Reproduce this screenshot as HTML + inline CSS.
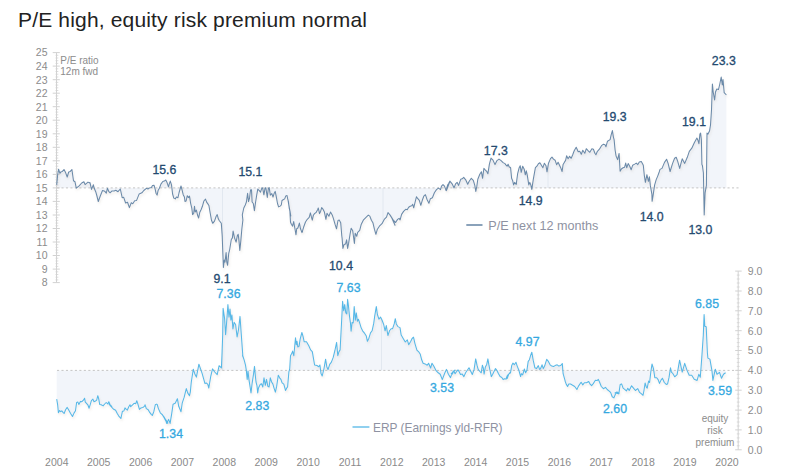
<!DOCTYPE html>
<html><head><meta charset="utf-8"><style>
html,body{margin:0;padding:0;background:#fff;width:800px;height:475px;overflow:hidden;}
svg{display:block;}
text{font-family:"Liberation Sans",sans-serif;}
.ax{font-size:10.5px;fill:#8c8c8c;}
.yr{font-size:10.5px;fill:#8a8a8a;}
.dl{font-size:12.3px;fill:#244a70;stroke:#244a70;stroke-width:0.3px;}
.ll{font-size:12.3px;fill:#35a8e0;stroke:#35a8e0;stroke-width:0.3px;}
.lg{font-size:12.6px;fill:#8e92a2;}
.at{font-size:10px;fill:#8c8c8c;}
.title{font-size:21px;fill:#222;}
</style></head><body>
<svg width="800" height="475" viewBox="0 0 800 475">
<defs><filter id="sh" x="-5%" y="-5%" width="110%" height="120%"><feDropShadow dx="0.8" dy="1.8" stdDeviation="1.2" flood-color="#a09080" flood-opacity="0.22"/></filter></defs>
<text x="18" y="27" class="title" textLength="349" lengthAdjust="spacing">P/E high, equity risk premium normal</text>
<clipPath id="cpA"><path d="M56.7,187.9 L56.7,184.9 L57.7,174.5 L58.6,169.2 L59.9,173.3 L61.2,171.7 L62.4,171.4 L64.0,169.5 L65.6,172.6 L67.2,177.0 L68.7,172.0 L70.3,171.4 L71.9,169.5 L73.5,180.8 L75.0,181.8 L76.3,188.1 L79.1,185.9 L81.7,183.0 L83.9,181.8 L85.1,184.6 L88.0,182.1 L89.8,183.0 L90.0,182.6 L91.5,189.4 L93.4,184.8 L94.2,188.3 L95.7,191.7 L96.8,195.5 L98.3,201.5 L100.2,196.2 L102.5,190.5 L104.8,191.3 L106.3,193.2 L107.4,188.3 L108.9,191.7 L110.1,192.8 L112.0,190.9 L114.2,190.9 L115.8,190.2 L118.0,191.7 L120.3,189.0 L122.2,197.7 L123.7,197.3 L125.6,203.0 L127.5,202.3 L129.4,207.6 L131.3,202.7 L132.8,203.8 L134.7,200.8 L136.6,200.4 L139.2,193.9 L141.9,192.8 L143.8,190.5 L146.4,188.3 L148.0,189.0 L149.5,187.9 L151.4,187.5 L152.5,185.6 L154.1,185.3 L155.2,189.4 L156.0,193.2 L157.1,195.1 L158.2,190.2 L159.4,188.3 L160.9,184.1 L162.8,181.5 L164.3,181.1 L165.8,180.0 L166.9,182.2 L168.5,186.8 L169.2,184.1 L170.3,181.1 L171.5,184.9 L172.6,194.0 L173.8,198.1 L175.3,198.9 L176.4,197.0 L177.9,197.8 L179.1,192.5 L181.0,186.0 L182.1,190.2 L183.2,194.7 L184.4,197.0 L185.0,201.4 L186.1,201.0 L187.3,195.7 L188.4,197.6 L189.5,196.1 L190.7,203.6 L191.8,208.2 L192.6,214.6 L193.7,213.5 L194.5,206.3 L195.2,212.0 L196.4,210.1 L197.5,215.0 L198.6,218.0 L199.8,212.3 L201.3,209.3 L202.4,206.3 L203.9,201.0 L205.5,199.1 L206.6,202.1 L207.7,203.6 L208.9,205.5 L210.0,212.0 L211.5,220.3 L212.7,223.3 L214.5,221.1 L216.1,216.5 L217.2,214.6 L218.3,218.8 L219.2,220.5 L221.3,223.2 L222.2,235.8 L222.9,254.7 L223.4,267.4 L224.3,260.0 L225.0,262.1 L226.1,252.6 L226.8,262.1 L227.6,265.3 L228.7,253.7 L229.7,249.5 L231.3,239.5 L232.4,237.9 L233.1,231.1 L234.5,237.9 L236.1,242.1 L237.3,235.8 L238.2,234.2 L239.0,241.1 L239.8,250.5 L240.8,241.1 L241.8,229.5 L242.9,220.0 L242.3,214.8 L243.8,208.0 L245.3,205.0 L246.4,202.0 L247.6,193.3 L248.5,201.6 L249.5,198.2 L250.6,189.8 L251.5,189.8 L252.1,202.0 L253.3,203.5 L254.4,210.7 L255.5,202.7 L256.7,195.2 L257.8,189.1 L259.3,190.6 L260.5,192.1 L262.0,187.6 L262.7,188.3 L263.9,194.8 L265.0,188.3 L265.8,187.6 L266.5,192.1 L267.3,197.4 L268.4,188.3 L269.2,187.6 L270.3,195.2 L271.8,193.6 L273.0,197.0 L274.1,193.6 L275.2,191.4 L276.4,197.4 L277.5,203.5 L278.6,206.9 L280.2,206.1 L281.3,205.0 L282.0,200.5 L283.2,199.7 L284.7,198.9 L285.8,195.9 L287.0,195.5 L287.7,198.9 L288.5,202.0 L289.2,208.0 L290.0,211.1 L290.8,216.0 L288.0,200.0 L289.2,207.6 L289.9,211.4 L290.5,222.3 L291.4,224.2 L292.6,226.1 L293.7,221.6 L294.8,228.0 L296.0,234.8 L296.7,228.8 L297.9,228.0 L299.4,223.1 L300.5,228.8 L302.0,232.6 L303.6,227.3 L305.5,222.0 L307.3,219.3 L309.2,217.4 L310.4,212.9 L311.5,217.4 L312.3,220.1 L313.4,215.2 L314.5,213.6 L316.1,212.5 L317.6,209.8 L318.3,208.0 L319.5,213.6 L320.6,211.4 L321.7,207.6 L322.9,209.1 L324.4,212.1 L325.9,219.3 L327.0,213.3 L328.9,216.3 L330.5,212.1 L332.3,215.2 L333.5,218.9 L335.0,224.2 L336.5,228.8 L338.0,220.5 L339.2,220.1 L340.7,222.7 L341.8,236.0 L342.1,238.3 L342.9,248.4 L344.1,244.4 L345.6,243.9 L346.6,239.8 L347.6,248.4 L348.6,243.4 L350.2,233.3 L351.2,228.2 L352.7,230.8 L353.7,238.3 L354.4,243.4 L355.2,233.3 L356.7,236.3 L357.7,232.3 L359.7,230.3 L361.3,224.2 L363.3,220.2 L365.8,217.6 L368.3,215.1 L369.8,216.1 L371.4,220.2 L372.9,222.7 L374.4,229.2 L375.9,234.3 L377.4,229.2 L379.4,226.2 L382.0,223.7 L384.5,219.1 L386.5,217.1 L388.0,212.6 L390.1,215.1 L392.6,219.1 L395.0,225.2 L391.5,217.4 L393.5,220.5 L395.6,222.5 L397.6,219.4 L399.1,218.4 L400.1,219.9 L401.6,214.4 L403.6,211.4 L405.7,209.3 L407.2,209.8 L408.7,207.3 L410.2,206.3 L411.7,205.8 L412.7,204.3 L413.7,207.8 L415.3,201.3 L416.5,196.7 L417.8,198.7 L419.3,200.3 L420.8,205.3 L422.3,200.3 L423.8,196.2 L425.4,194.7 L426.9,199.2 L428.9,203.3 L430.4,198.7 L432.4,197.7 L434.4,192.7 L436.5,189.6 L438.5,188.1 L440.5,189.6 L441.5,186.1 L443.0,184.6 L444.5,186.1 L446.1,190.7 L447.6,185.1 L448.6,183.6 L450.0,181.1 L446.5,190.4 L448.0,185.4 L450.1,181.3 L452.1,183.8 L454.1,187.9 L455.6,183.8 L457.1,182.3 L458.6,185.4 L460.7,179.3 L462.2,178.8 L463.7,177.3 L465.7,179.8 L467.7,184.3 L469.2,181.3 L471.3,178.3 L473.3,180.3 L474.8,185.4 L475.8,191.4 L476.8,186.4 L477.8,179.3 L479.8,174.2 L481.4,171.7 L482.6,178.3 L483.9,168.2 L485.4,170.2 L486.9,171.7 L487.9,173.7 L489.4,164.1 L491.0,158.1 L493.0,160.1 L495.0,164.6 L497.0,160.6 L499.0,159.1 L501.1,160.6 L503.1,162.6 L505.0,163.6 L505.6,164.7 L507.1,166.2 L508.1,164.2 L509.1,166.7 L510.6,167.7 L511.6,178.3 L512.6,180.4 L513.6,184.9 L514.6,182.4 L516.2,184.4 L517.7,173.3 L519.2,167.7 L520.2,165.7 L521.2,172.3 L522.7,166.2 L524.2,169.2 L525.3,174.8 L526.3,170.8 L527.3,175.3 L528.8,184.9 L529.8,182.4 L530.8,184.9 L531.8,189.4 L533.3,179.3 L535.4,167.7 L536.9,166.2 L538.4,163.7 L539.9,162.7 L541.4,165.2 L542.9,167.7 L544.4,163.2 L546.0,165.7 L547.0,171.8 L548.5,163.2 L550.5,158.6 L552.0,157.1 L553.5,159.1 L555.1,160.2 L556.6,164.7 L558.1,162.2 L560.0,166.2 L560.6,167.4 L562.1,171.5 L563.1,164.4 L564.6,161.9 L565.6,160.4 L566.6,155.8 L568.1,158.8 L569.6,156.3 L571.2,158.3 L572.7,154.8 L574.2,150.8 L576.2,147.2 L578.2,151.8 L579.7,151.3 L581.3,154.3 L582.8,150.3 L584.8,153.3 L586.3,148.7 L587.8,150.3 L589.8,152.3 L591.9,148.7 L593.4,149.2 L594.9,153.3 L595.9,154.8 L597.4,151.3 L599.4,149.2 L601.5,145.7 L603.5,144.2 L605.0,144.7 L606.0,146.7 L607.5,141.2 L610.1,139.6 L611.1,135.1 L612.4,130.6 L613.4,137.1 L614.1,139.6 L615.1,150.0 L616.1,156.1 L617.6,159.6 L619.1,153.5 L620.1,171.2 L621.6,168.7 L623.1,167.7 L624.6,167.2 L625.7,163.1 L626.7,167.7 L628.2,163.6 L629.7,166.2 L631.2,169.7 L632.7,165.2 L634.7,164.1 L636.3,163.1 L637.8,164.6 L639.3,162.1 L641.3,161.6 L643.3,165.2 L644.3,175.3 L645.4,182.3 L646.9,174.7 L648.4,181.3 L649.4,176.8 L650.4,185.9 L651.9,194.4 L652.1,201.3 L653.1,195.3 L654.6,185.2 L656.2,179.6 L657.7,176.1 L659.2,172.0 L660.0,169.4 L662.0,168.4 L664.5,162.4 L666.6,159.3 L668.1,163.4 L670.1,171.5 L672.6,163.4 L674.6,158.3 L676.2,157.3 L677.7,161.4 L679.7,168.4 L680.7,164.4 L682.2,158.8 L684.7,163.4 L687.3,157.3 L689.3,151.3 L691.8,148.2 L694.3,142.7 L696.9,138.1 L697.9,140.2 L698.9,143.7 L699.9,134.1 L700.6,133.1 L701.4,140.2 L701.9,164.4 L702.4,165.4 L703.4,173.0 L704.2,214.9 L705.1,192.8 L706.4,185.3 L706.4,185.3 L707.0,133.1 L708.0,134.1 L709.5,131.1 L710.5,125.0 L711.5,110.0 L712.4,84.0 L713.2,92.0 L714.6,100.0 L715.5,92.0 L716.8,89.0 L718.5,89.5 L719.8,84.0 L721.2,77.0 L722.3,85.0 L723.0,79.5 L724.2,92.7 L726.4,95.0 L726.4,187.9Z"/></clipPath><clipPath id="cpB"><path d="M56.7,370.4 L56.7,399.1 L57.7,405.2 L58.4,412.7 L59.6,410.5 L60.7,411.6 L61.8,410.8 L63.0,412.3 L64.1,413.5 L65.6,409.7 L67.2,407.4 L68.7,410.1 L70.6,413.5 L72.5,416.5 L74.0,413.1 L75.5,410.8 L76.6,402.5 L77.8,402.1 L78.9,404.4 L80.4,401.4 L81.9,401.7 L83.4,400.2 L84.6,398.3 L85.3,402.1 L86.5,403.3 L88.0,405.2 L89.1,408.2 L90.3,404.4 L91.4,400.6 L92.9,399.1 L94.0,401.7 L95.6,401.0 L96.7,400.2 L97.8,395.7 L98.6,398.3 L99.7,404.4 L101.2,404.8 L103.1,405.9 L104.7,404.0 L106.2,402.5 L107.7,404.0 L108.8,401.7 L110.3,405.2 L111.8,406.3 L109.1,404.1 L111.0,406.4 L113.3,409.0 L115.6,410.2 L117.1,413.2 L118.6,415.8 L120.9,418.5 L122.4,411.3 L123.9,410.9 L125.0,407.9 L126.2,409.4 L127.3,410.2 L128.8,406.7 L130.0,404.8 L130.7,406.7 L132.6,404.8 L134.1,403.3 L135.7,403.7 L136.8,400.7 L137.9,404.1 L139.4,409.4 L141.0,407.9 L142.8,407.5 L144.4,406.4 L145.1,404.8 L146.3,408.6 L148.2,409.8 L149.7,412.4 L151.2,414.3 L152.3,415.5 L153.8,411.7 L155.3,404.8 L156.5,404.1 L157.2,404.5 L158.4,408.6 L160.3,412.8 L162.2,414.7 L164.1,417.0 L165.6,420.0 L166.7,423.4 L168.0,423.0 L162.0,414.3 L164.0,417.4 L165.6,420.4 L166.9,423.4 L168.6,419.4 L170.1,423.4 L171.6,414.3 L173.1,404.2 L175.2,403.2 L177.4,398.7 L178.7,406.3 L181.0,411.8 L182.2,403.2 L184.2,397.2 L186.3,388.6 L187.8,393.1 L189.5,395.7 L190.3,392.1 L191.3,382.0 L193.3,369.2 L194.8,373.9 L196.4,377.1 L198.9,364.2 L202.1,373.3 L204.9,383.4 L206.5,383.0 L207.8,384.4 L208.8,388.0 L210.7,376.7 L212.5,368.9 L214.7,372.0 L217.2,374.6 L219.1,365.7 L221.4,367.9 L222.1,351.4 L222.7,335.0 L223.1,308.3 L224.6,318.6 L225.6,334.8 L226.8,320.1 L227.9,304.6 L229.0,317.1 L230.0,309.0 L230.9,320.1 L231.9,314.9 L232.9,328.9 L234.1,322.3 L235.6,324.5 L237.1,337.0 L238.5,329.6 L240.0,316.4 L241.2,333.3 L242.9,356.8 L242.5,355.0 L244.2,360.1 L245.5,365.1 L246.3,370.2 L247.2,379.4 L248.0,371.0 L248.8,378.6 L250.1,387.0 L251.0,392.9 L252.2,382.8 L253.5,374.4 L254.5,366.4 L255.2,374.4 L256.0,382.0 L256.9,385.3 L257.7,392.9 L258.5,387.9 L260.2,384.5 L261.5,383.7 L262.8,387.0 L264.0,377.8 L265.3,385.3 L266.5,379.4 L267.8,386.2 L269.1,387.0 L270.3,377.8 L271.6,382.0 L272.9,384.1 L274.1,388.3 L275.4,392.1 L276.7,386.2 L278.3,375.2 L279.6,377.8 L280.9,379.4 L282.1,382.8 L283.8,384.1 L285.5,390.4 L286.8,387.9 L287.6,387.0 L288.9,371.9 L289.7,369.0 L290.5,355.7 L292.1,352.8 L292.6,351.1 L293.8,355.7 L295.5,337.7 L296.3,344.7 L297.0,341.2 L297.8,347.0 L299.0,346.4 L300.2,338.9 L301.9,332.5 L303.1,336.6 L304.2,341.8 L306.5,341.8 L308.8,345.8 L310.6,349.9 L312.3,351.6 L313.5,358.6 L314.6,365.0 L317.0,365.5 L318.7,366.7 L319.9,365.0 L321.0,373.6 L322.2,376.0 L323.9,369.0 L325.6,359.2 L326.8,366.7 L328.0,369.6 L329.7,364.4 L331.4,362.1 L333.2,357.4 L334.9,350.5 L336.6,342.4 L337.8,355.7 L339.0,351.6 L340.1,349.9 L341.6,321.3 L342.6,301.3 L343.7,310.8 L344.7,304.5 L345.8,312.9 L346.8,313.9 L347.6,299.2 L348.4,305.5 L349.5,316.1 L350.5,323.4 L351.1,331.3 L352.1,322.4 L353.2,322.9 L354.2,306.6 L355.3,320.3 L356.3,312.9 L357.4,321.3 L358.4,319.2 L359.5,322.4 L361.1,327.6 L362.6,330.8 L364.7,333.4 L366.3,336.1 L367.4,341.3 L368.9,338.2 L370.5,332.9 L372.1,330.8 L373.7,323.4 L374.7,316.1 L376.3,306.6 L377.4,314.5 L378.9,319.2 L380.5,317.1 L382.1,320.3 L383.7,324.5 L385.1,330.8 L386.3,325.5 L387.9,335.5 L389.5,330.8 L391.1,328.7 L392.6,328.7 L394.2,323.9 L395.3,318.7 L396.3,323.9 L397.9,326.6 L400.0,327.6 L401.2,335.1 L403.2,338.5 L405.3,342.0 L407.3,339.9 L408.7,344.7 L410.8,341.3 L412.1,338.5 L413.5,337.2 L414.9,343.3 L416.9,350.2 L419.0,352.2 L420.3,354.3 L421.7,359.8 L423.1,363.2 L425.1,363.9 L427.2,365.3 L428.6,363.2 L430.6,368.0 L432.0,363.2 L434.0,366.6 L436.1,370.7 L438.2,372.8 L440.2,374.2 L442.3,379.6 L444.3,374.2 L446.4,369.4 L448.4,374.2 L450.5,377.6 L452.5,372.1 L455.0,370.1 L451.3,373.7 L452.5,374.1 L453.8,370.7 L455.1,373.7 L456.3,372.0 L458.0,369.9 L459.3,372.0 L460.5,374.5 L462.2,374.1 L463.9,376.6 L465.6,372.8 L467.3,370.3 L469.0,367.8 L470.6,371.1 L472.3,374.5 L474.0,369.9 L475.7,358.9 L477.0,365.2 L478.2,369.4 L479.9,371.5 L481.2,372.8 L482.4,365.2 L483.3,367.8 L484.1,374.1 L485.4,366.9 L486.7,364.4 L487.9,358.9 L488.8,364.4 L490.0,370.3 L491.3,376.6 L492.6,374.5 L493.8,372.0 L495.5,368.6 L496.8,370.3 L498.5,373.7 L500.1,376.6 L501.8,377.4 L503.1,379.6 L504.4,378.7 L506.0,379.1 L507.3,378.3 L508.6,374.5 L509.8,372.8 L506.3,377.9 L507.5,375.3 L509.2,373.7 L510.5,372.8 L511.7,365.6 L513.0,363.1 L514.3,364.8 L516.0,362.3 L517.2,366.1 L518.9,370.3 L520.6,376.6 L521.4,373.7 L522.7,374.9 L524.4,369.0 L525.6,372.8 L526.9,370.3 L528.2,361.4 L529.4,359.7 L530.7,355.1 L531.8,352.2 L533.2,360.2 L534.9,367.8 L536.6,368.6 L538.3,365.6 L539.6,369.4 L540.4,369.0 L542.1,364.8 L543.3,368.6 L544.6,366.1 L546.7,359.3 L548.4,361.4 L550.1,364.8 L551.8,366.1 L553.5,366.5 L555.1,365.6 L557.2,364.8 L558.9,366.1 L560.6,365.6 L562.3,363.5 L563.1,373.7 L565.0,380.4 L565.1,381.1 L566.3,384.4 L567.6,386.5 L568.8,384.0 L570.5,384.0 L572.6,385.3 L574.7,386.5 L576.9,389.5 L578.5,386.1 L581.1,382.3 L582.8,384.9 L584.4,382.8 L586.5,382.8 L588.7,381.5 L590.3,384.4 L591.6,385.7 L593.3,383.6 L595.4,380.2 L597.1,380.6 L598.3,379.4 L599.6,382.3 L601.3,386.5 L603.4,388.7 L605.5,387.4 L607.2,389.5 L608.9,390.8 L610.6,392.4 L612.2,396.7 L613.9,397.9 L615.6,393.7 L617.3,392.0 L619.0,393.7 L615.0,392.9 L616.9,392.0 L618.8,393.9 L620.2,384.4 L621.6,383.9 L623.1,388.2 L625.0,389.6 L626.4,391.0 L627.8,388.2 L629.2,390.5 L631.6,385.8 L633.5,388.2 L635.4,390.5 L637.7,388.6 L639.6,392.4 L641.5,393.9 L643.0,395.3 L643.9,391.0 L645.1,383.0 L646.3,387.2 L647.2,388.2 L648.6,381.1 L649.6,382.5 L650.8,372.1 L652.0,364.0 L653.4,368.3 L654.8,377.7 L656.7,377.7 L658.1,379.6 L659.5,383.4 L661.0,380.1 L662.4,378.2 L664.3,382.5 L666.2,384.4 L667.6,383.9 L669.0,377.7 L670.5,367.8 L671.4,372.1 L672.8,373.5 L674.7,376.8 L677.1,374.7 L679.6,360.2 L682.2,372.1 L684.7,363.3 L687.2,370.9 L689.2,375.3 L691.7,375.3 L694.2,379.3 L697.1,380.4 L698.8,374.3 L700.3,377.3 L701.8,357.1 L703.3,335.3 L704.1,314.6 L704.8,326.2 L706.2,326.7 L707.4,353.0 L707.9,358.1 L709.9,359.1 L711.9,370.3 L712.9,380.4 L715.3,369.2 L717.0,374.3 L719.5,372.3 L721.5,378.3 L723.5,374.3 L725.6,372.8 L725.6,370.4Z"/></clipPath>
<path d="M56.7,187.9 L56.7,184.9 L57.7,174.5 L58.6,169.2 L59.9,173.3 L61.2,171.7 L62.4,171.4 L64.0,169.5 L65.6,172.6 L67.2,177.0 L68.7,172.0 L70.3,171.4 L71.9,169.5 L73.5,180.8 L75.0,181.8 L76.3,188.1 L79.1,185.9 L81.7,183.0 L83.9,181.8 L85.1,184.6 L88.0,182.1 L89.8,183.0 L90.0,182.6 L91.5,189.4 L93.4,184.8 L94.2,188.3 L95.7,191.7 L96.8,195.5 L98.3,201.5 L100.2,196.2 L102.5,190.5 L104.8,191.3 L106.3,193.2 L107.4,188.3 L108.9,191.7 L110.1,192.8 L112.0,190.9 L114.2,190.9 L115.8,190.2 L118.0,191.7 L120.3,189.0 L122.2,197.7 L123.7,197.3 L125.6,203.0 L127.5,202.3 L129.4,207.6 L131.3,202.7 L132.8,203.8 L134.7,200.8 L136.6,200.4 L139.2,193.9 L141.9,192.8 L143.8,190.5 L146.4,188.3 L148.0,189.0 L149.5,187.9 L151.4,187.5 L152.5,185.6 L154.1,185.3 L155.2,189.4 L156.0,193.2 L157.1,195.1 L158.2,190.2 L159.4,188.3 L160.9,184.1 L162.8,181.5 L164.3,181.1 L165.8,180.0 L166.9,182.2 L168.5,186.8 L169.2,184.1 L170.3,181.1 L171.5,184.9 L172.6,194.0 L173.8,198.1 L175.3,198.9 L176.4,197.0 L177.9,197.8 L179.1,192.5 L181.0,186.0 L182.1,190.2 L183.2,194.7 L184.4,197.0 L185.0,201.4 L186.1,201.0 L187.3,195.7 L188.4,197.6 L189.5,196.1 L190.7,203.6 L191.8,208.2 L192.6,214.6 L193.7,213.5 L194.5,206.3 L195.2,212.0 L196.4,210.1 L197.5,215.0 L198.6,218.0 L199.8,212.3 L201.3,209.3 L202.4,206.3 L203.9,201.0 L205.5,199.1 L206.6,202.1 L207.7,203.6 L208.9,205.5 L210.0,212.0 L211.5,220.3 L212.7,223.3 L214.5,221.1 L216.1,216.5 L217.2,214.6 L218.3,218.8 L219.2,220.5 L221.3,223.2 L222.2,235.8 L222.9,254.7 L223.4,267.4 L224.3,260.0 L225.0,262.1 L226.1,252.6 L226.8,262.1 L227.6,265.3 L228.7,253.7 L229.7,249.5 L231.3,239.5 L232.4,237.9 L233.1,231.1 L234.5,237.9 L236.1,242.1 L237.3,235.8 L238.2,234.2 L239.0,241.1 L239.8,250.5 L240.8,241.1 L241.8,229.5 L242.9,220.0 L242.3,214.8 L243.8,208.0 L245.3,205.0 L246.4,202.0 L247.6,193.3 L248.5,201.6 L249.5,198.2 L250.6,189.8 L251.5,189.8 L252.1,202.0 L253.3,203.5 L254.4,210.7 L255.5,202.7 L256.7,195.2 L257.8,189.1 L259.3,190.6 L260.5,192.1 L262.0,187.6 L262.7,188.3 L263.9,194.8 L265.0,188.3 L265.8,187.6 L266.5,192.1 L267.3,197.4 L268.4,188.3 L269.2,187.6 L270.3,195.2 L271.8,193.6 L273.0,197.0 L274.1,193.6 L275.2,191.4 L276.4,197.4 L277.5,203.5 L278.6,206.9 L280.2,206.1 L281.3,205.0 L282.0,200.5 L283.2,199.7 L284.7,198.9 L285.8,195.9 L287.0,195.5 L287.7,198.9 L288.5,202.0 L289.2,208.0 L290.0,211.1 L290.8,216.0 L288.0,200.0 L289.2,207.6 L289.9,211.4 L290.5,222.3 L291.4,224.2 L292.6,226.1 L293.7,221.6 L294.8,228.0 L296.0,234.8 L296.7,228.8 L297.9,228.0 L299.4,223.1 L300.5,228.8 L302.0,232.6 L303.6,227.3 L305.5,222.0 L307.3,219.3 L309.2,217.4 L310.4,212.9 L311.5,217.4 L312.3,220.1 L313.4,215.2 L314.5,213.6 L316.1,212.5 L317.6,209.8 L318.3,208.0 L319.5,213.6 L320.6,211.4 L321.7,207.6 L322.9,209.1 L324.4,212.1 L325.9,219.3 L327.0,213.3 L328.9,216.3 L330.5,212.1 L332.3,215.2 L333.5,218.9 L335.0,224.2 L336.5,228.8 L338.0,220.5 L339.2,220.1 L340.7,222.7 L341.8,236.0 L342.1,238.3 L342.9,248.4 L344.1,244.4 L345.6,243.9 L346.6,239.8 L347.6,248.4 L348.6,243.4 L350.2,233.3 L351.2,228.2 L352.7,230.8 L353.7,238.3 L354.4,243.4 L355.2,233.3 L356.7,236.3 L357.7,232.3 L359.7,230.3 L361.3,224.2 L363.3,220.2 L365.8,217.6 L368.3,215.1 L369.8,216.1 L371.4,220.2 L372.9,222.7 L374.4,229.2 L375.9,234.3 L377.4,229.2 L379.4,226.2 L382.0,223.7 L384.5,219.1 L386.5,217.1 L388.0,212.6 L390.1,215.1 L392.6,219.1 L395.0,225.2 L391.5,217.4 L393.5,220.5 L395.6,222.5 L397.6,219.4 L399.1,218.4 L400.1,219.9 L401.6,214.4 L403.6,211.4 L405.7,209.3 L407.2,209.8 L408.7,207.3 L410.2,206.3 L411.7,205.8 L412.7,204.3 L413.7,207.8 L415.3,201.3 L416.5,196.7 L417.8,198.7 L419.3,200.3 L420.8,205.3 L422.3,200.3 L423.8,196.2 L425.4,194.7 L426.9,199.2 L428.9,203.3 L430.4,198.7 L432.4,197.7 L434.4,192.7 L436.5,189.6 L438.5,188.1 L440.5,189.6 L441.5,186.1 L443.0,184.6 L444.5,186.1 L446.1,190.7 L447.6,185.1 L448.6,183.6 L450.0,181.1 L446.5,190.4 L448.0,185.4 L450.1,181.3 L452.1,183.8 L454.1,187.9 L455.6,183.8 L457.1,182.3 L458.6,185.4 L460.7,179.3 L462.2,178.8 L463.7,177.3 L465.7,179.8 L467.7,184.3 L469.2,181.3 L471.3,178.3 L473.3,180.3 L474.8,185.4 L475.8,191.4 L476.8,186.4 L477.8,179.3 L479.8,174.2 L481.4,171.7 L482.6,178.3 L483.9,168.2 L485.4,170.2 L486.9,171.7 L487.9,173.7 L489.4,164.1 L491.0,158.1 L493.0,160.1 L495.0,164.6 L497.0,160.6 L499.0,159.1 L501.1,160.6 L503.1,162.6 L505.0,163.6 L505.6,164.7 L507.1,166.2 L508.1,164.2 L509.1,166.7 L510.6,167.7 L511.6,178.3 L512.6,180.4 L513.6,184.9 L514.6,182.4 L516.2,184.4 L517.7,173.3 L519.2,167.7 L520.2,165.7 L521.2,172.3 L522.7,166.2 L524.2,169.2 L525.3,174.8 L526.3,170.8 L527.3,175.3 L528.8,184.9 L529.8,182.4 L530.8,184.9 L531.8,189.4 L533.3,179.3 L535.4,167.7 L536.9,166.2 L538.4,163.7 L539.9,162.7 L541.4,165.2 L542.9,167.7 L544.4,163.2 L546.0,165.7 L547.0,171.8 L548.5,163.2 L550.5,158.6 L552.0,157.1 L553.5,159.1 L555.1,160.2 L556.6,164.7 L558.1,162.2 L560.0,166.2 L560.6,167.4 L562.1,171.5 L563.1,164.4 L564.6,161.9 L565.6,160.4 L566.6,155.8 L568.1,158.8 L569.6,156.3 L571.2,158.3 L572.7,154.8 L574.2,150.8 L576.2,147.2 L578.2,151.8 L579.7,151.3 L581.3,154.3 L582.8,150.3 L584.8,153.3 L586.3,148.7 L587.8,150.3 L589.8,152.3 L591.9,148.7 L593.4,149.2 L594.9,153.3 L595.9,154.8 L597.4,151.3 L599.4,149.2 L601.5,145.7 L603.5,144.2 L605.0,144.7 L606.0,146.7 L607.5,141.2 L610.1,139.6 L611.1,135.1 L612.4,130.6 L613.4,137.1 L614.1,139.6 L615.1,150.0 L616.1,156.1 L617.6,159.6 L619.1,153.5 L620.1,171.2 L621.6,168.7 L623.1,167.7 L624.6,167.2 L625.7,163.1 L626.7,167.7 L628.2,163.6 L629.7,166.2 L631.2,169.7 L632.7,165.2 L634.7,164.1 L636.3,163.1 L637.8,164.6 L639.3,162.1 L641.3,161.6 L643.3,165.2 L644.3,175.3 L645.4,182.3 L646.9,174.7 L648.4,181.3 L649.4,176.8 L650.4,185.9 L651.9,194.4 L652.1,201.3 L653.1,195.3 L654.6,185.2 L656.2,179.6 L657.7,176.1 L659.2,172.0 L660.0,169.4 L662.0,168.4 L664.5,162.4 L666.6,159.3 L668.1,163.4 L670.1,171.5 L672.6,163.4 L674.6,158.3 L676.2,157.3 L677.7,161.4 L679.7,168.4 L680.7,164.4 L682.2,158.8 L684.7,163.4 L687.3,157.3 L689.3,151.3 L691.8,148.2 L694.3,142.7 L696.9,138.1 L697.9,140.2 L698.9,143.7 L699.9,134.1 L700.6,133.1 L701.4,140.2 L701.9,164.4 L702.4,165.4 L703.4,173.0 L704.2,214.9 L705.1,192.8 L706.4,185.3 L706.4,185.3 L707.0,133.1 L708.0,134.1 L709.5,131.1 L710.5,125.0 L711.5,110.0 L712.4,84.0 L713.2,92.0 L714.6,100.0 L715.5,92.0 L716.8,89.0 L718.5,89.5 L719.8,84.0 L721.2,77.0 L722.3,85.0 L723.0,79.5 L724.2,92.7 L726.4,95.0 L726.4,187.9Z" fill="#f2f5fa"/>
<path d="M56.7,370.4 L56.7,399.1 L57.7,405.2 L58.4,412.7 L59.6,410.5 L60.7,411.6 L61.8,410.8 L63.0,412.3 L64.1,413.5 L65.6,409.7 L67.2,407.4 L68.7,410.1 L70.6,413.5 L72.5,416.5 L74.0,413.1 L75.5,410.8 L76.6,402.5 L77.8,402.1 L78.9,404.4 L80.4,401.4 L81.9,401.7 L83.4,400.2 L84.6,398.3 L85.3,402.1 L86.5,403.3 L88.0,405.2 L89.1,408.2 L90.3,404.4 L91.4,400.6 L92.9,399.1 L94.0,401.7 L95.6,401.0 L96.7,400.2 L97.8,395.7 L98.6,398.3 L99.7,404.4 L101.2,404.8 L103.1,405.9 L104.7,404.0 L106.2,402.5 L107.7,404.0 L108.8,401.7 L110.3,405.2 L111.8,406.3 L109.1,404.1 L111.0,406.4 L113.3,409.0 L115.6,410.2 L117.1,413.2 L118.6,415.8 L120.9,418.5 L122.4,411.3 L123.9,410.9 L125.0,407.9 L126.2,409.4 L127.3,410.2 L128.8,406.7 L130.0,404.8 L130.7,406.7 L132.6,404.8 L134.1,403.3 L135.7,403.7 L136.8,400.7 L137.9,404.1 L139.4,409.4 L141.0,407.9 L142.8,407.5 L144.4,406.4 L145.1,404.8 L146.3,408.6 L148.2,409.8 L149.7,412.4 L151.2,414.3 L152.3,415.5 L153.8,411.7 L155.3,404.8 L156.5,404.1 L157.2,404.5 L158.4,408.6 L160.3,412.8 L162.2,414.7 L164.1,417.0 L165.6,420.0 L166.7,423.4 L168.0,423.0 L162.0,414.3 L164.0,417.4 L165.6,420.4 L166.9,423.4 L168.6,419.4 L170.1,423.4 L171.6,414.3 L173.1,404.2 L175.2,403.2 L177.4,398.7 L178.7,406.3 L181.0,411.8 L182.2,403.2 L184.2,397.2 L186.3,388.6 L187.8,393.1 L189.5,395.7 L190.3,392.1 L191.3,382.0 L193.3,369.2 L194.8,373.9 L196.4,377.1 L198.9,364.2 L202.1,373.3 L204.9,383.4 L206.5,383.0 L207.8,384.4 L208.8,388.0 L210.7,376.7 L212.5,368.9 L214.7,372.0 L217.2,374.6 L219.1,365.7 L221.4,367.9 L222.1,351.4 L222.7,335.0 L223.1,308.3 L224.6,318.6 L225.6,334.8 L226.8,320.1 L227.9,304.6 L229.0,317.1 L230.0,309.0 L230.9,320.1 L231.9,314.9 L232.9,328.9 L234.1,322.3 L235.6,324.5 L237.1,337.0 L238.5,329.6 L240.0,316.4 L241.2,333.3 L242.9,356.8 L242.5,355.0 L244.2,360.1 L245.5,365.1 L246.3,370.2 L247.2,379.4 L248.0,371.0 L248.8,378.6 L250.1,387.0 L251.0,392.9 L252.2,382.8 L253.5,374.4 L254.5,366.4 L255.2,374.4 L256.0,382.0 L256.9,385.3 L257.7,392.9 L258.5,387.9 L260.2,384.5 L261.5,383.7 L262.8,387.0 L264.0,377.8 L265.3,385.3 L266.5,379.4 L267.8,386.2 L269.1,387.0 L270.3,377.8 L271.6,382.0 L272.9,384.1 L274.1,388.3 L275.4,392.1 L276.7,386.2 L278.3,375.2 L279.6,377.8 L280.9,379.4 L282.1,382.8 L283.8,384.1 L285.5,390.4 L286.8,387.9 L287.6,387.0 L288.9,371.9 L289.7,369.0 L290.5,355.7 L292.1,352.8 L292.6,351.1 L293.8,355.7 L295.5,337.7 L296.3,344.7 L297.0,341.2 L297.8,347.0 L299.0,346.4 L300.2,338.9 L301.9,332.5 L303.1,336.6 L304.2,341.8 L306.5,341.8 L308.8,345.8 L310.6,349.9 L312.3,351.6 L313.5,358.6 L314.6,365.0 L317.0,365.5 L318.7,366.7 L319.9,365.0 L321.0,373.6 L322.2,376.0 L323.9,369.0 L325.6,359.2 L326.8,366.7 L328.0,369.6 L329.7,364.4 L331.4,362.1 L333.2,357.4 L334.9,350.5 L336.6,342.4 L337.8,355.7 L339.0,351.6 L340.1,349.9 L341.6,321.3 L342.6,301.3 L343.7,310.8 L344.7,304.5 L345.8,312.9 L346.8,313.9 L347.6,299.2 L348.4,305.5 L349.5,316.1 L350.5,323.4 L351.1,331.3 L352.1,322.4 L353.2,322.9 L354.2,306.6 L355.3,320.3 L356.3,312.9 L357.4,321.3 L358.4,319.2 L359.5,322.4 L361.1,327.6 L362.6,330.8 L364.7,333.4 L366.3,336.1 L367.4,341.3 L368.9,338.2 L370.5,332.9 L372.1,330.8 L373.7,323.4 L374.7,316.1 L376.3,306.6 L377.4,314.5 L378.9,319.2 L380.5,317.1 L382.1,320.3 L383.7,324.5 L385.1,330.8 L386.3,325.5 L387.9,335.5 L389.5,330.8 L391.1,328.7 L392.6,328.7 L394.2,323.9 L395.3,318.7 L396.3,323.9 L397.9,326.6 L400.0,327.6 L401.2,335.1 L403.2,338.5 L405.3,342.0 L407.3,339.9 L408.7,344.7 L410.8,341.3 L412.1,338.5 L413.5,337.2 L414.9,343.3 L416.9,350.2 L419.0,352.2 L420.3,354.3 L421.7,359.8 L423.1,363.2 L425.1,363.9 L427.2,365.3 L428.6,363.2 L430.6,368.0 L432.0,363.2 L434.0,366.6 L436.1,370.7 L438.2,372.8 L440.2,374.2 L442.3,379.6 L444.3,374.2 L446.4,369.4 L448.4,374.2 L450.5,377.6 L452.5,372.1 L455.0,370.1 L451.3,373.7 L452.5,374.1 L453.8,370.7 L455.1,373.7 L456.3,372.0 L458.0,369.9 L459.3,372.0 L460.5,374.5 L462.2,374.1 L463.9,376.6 L465.6,372.8 L467.3,370.3 L469.0,367.8 L470.6,371.1 L472.3,374.5 L474.0,369.9 L475.7,358.9 L477.0,365.2 L478.2,369.4 L479.9,371.5 L481.2,372.8 L482.4,365.2 L483.3,367.8 L484.1,374.1 L485.4,366.9 L486.7,364.4 L487.9,358.9 L488.8,364.4 L490.0,370.3 L491.3,376.6 L492.6,374.5 L493.8,372.0 L495.5,368.6 L496.8,370.3 L498.5,373.7 L500.1,376.6 L501.8,377.4 L503.1,379.6 L504.4,378.7 L506.0,379.1 L507.3,378.3 L508.6,374.5 L509.8,372.8 L506.3,377.9 L507.5,375.3 L509.2,373.7 L510.5,372.8 L511.7,365.6 L513.0,363.1 L514.3,364.8 L516.0,362.3 L517.2,366.1 L518.9,370.3 L520.6,376.6 L521.4,373.7 L522.7,374.9 L524.4,369.0 L525.6,372.8 L526.9,370.3 L528.2,361.4 L529.4,359.7 L530.7,355.1 L531.8,352.2 L533.2,360.2 L534.9,367.8 L536.6,368.6 L538.3,365.6 L539.6,369.4 L540.4,369.0 L542.1,364.8 L543.3,368.6 L544.6,366.1 L546.7,359.3 L548.4,361.4 L550.1,364.8 L551.8,366.1 L553.5,366.5 L555.1,365.6 L557.2,364.8 L558.9,366.1 L560.6,365.6 L562.3,363.5 L563.1,373.7 L565.0,380.4 L565.1,381.1 L566.3,384.4 L567.6,386.5 L568.8,384.0 L570.5,384.0 L572.6,385.3 L574.7,386.5 L576.9,389.5 L578.5,386.1 L581.1,382.3 L582.8,384.9 L584.4,382.8 L586.5,382.8 L588.7,381.5 L590.3,384.4 L591.6,385.7 L593.3,383.6 L595.4,380.2 L597.1,380.6 L598.3,379.4 L599.6,382.3 L601.3,386.5 L603.4,388.7 L605.5,387.4 L607.2,389.5 L608.9,390.8 L610.6,392.4 L612.2,396.7 L613.9,397.9 L615.6,393.7 L617.3,392.0 L619.0,393.7 L615.0,392.9 L616.9,392.0 L618.8,393.9 L620.2,384.4 L621.6,383.9 L623.1,388.2 L625.0,389.6 L626.4,391.0 L627.8,388.2 L629.2,390.5 L631.6,385.8 L633.5,388.2 L635.4,390.5 L637.7,388.6 L639.6,392.4 L641.5,393.9 L643.0,395.3 L643.9,391.0 L645.1,383.0 L646.3,387.2 L647.2,388.2 L648.6,381.1 L649.6,382.5 L650.8,372.1 L652.0,364.0 L653.4,368.3 L654.8,377.7 L656.7,377.7 L658.1,379.6 L659.5,383.4 L661.0,380.1 L662.4,378.2 L664.3,382.5 L666.2,384.4 L667.6,383.9 L669.0,377.7 L670.5,367.8 L671.4,372.1 L672.8,373.5 L674.7,376.8 L677.1,374.7 L679.6,360.2 L682.2,372.1 L684.7,363.3 L687.2,370.9 L689.2,375.3 L691.7,375.3 L694.2,379.3 L697.1,380.4 L698.8,374.3 L700.3,377.3 L701.8,357.1 L703.3,335.3 L704.1,314.6 L704.8,326.2 L706.2,326.7 L707.4,353.0 L707.9,358.1 L709.9,359.1 L711.9,370.3 L712.9,380.4 L715.3,369.2 L717.0,374.3 L719.5,372.3 L721.5,378.3 L723.5,374.3 L725.6,372.8 L725.6,370.4Z" fill="#f2f5fa"/>
<line x1="222.5" y1="60" x2="222.5" y2="290" stroke="#e2e8f0" stroke-width="1" clip-path="url(#cpA)"/>
<line x1="383" y1="60" x2="383" y2="290" stroke="#e2e8f0" stroke-width="1" clip-path="url(#cpA)"/>
<line x1="548" y1="60" x2="548" y2="290" stroke="#e2e8f0" stroke-width="1" clip-path="url(#cpA)"/>
<line x1="222.5" y1="290" x2="222.5" y2="440" stroke="#e2e8f0" stroke-width="1" clip-path="url(#cpB)"/>
<line x1="381.5" y1="290" x2="381.5" y2="440" stroke="#e2e8f0" stroke-width="1" clip-path="url(#cpB)"/>
<line x1="57" y1="187.9" x2="740" y2="187.9" stroke="#c4c4c4" stroke-width="1" stroke-dasharray="2.1,2.37"/>
<line x1="57" y1="370.4" x2="738" y2="370.4" stroke="#c4c4c4" stroke-width="1" stroke-dasharray="2.1,2.37"/>
<line x1="56.5" y1="52.6" x2="56.5" y2="282.6" stroke="#d2d2d2" stroke-width="1"/>
<line x1="52.7" y1="282.6" x2="59.8" y2="282.6" stroke="#d2d2d2" stroke-width="1"/>
<text x="47.5" y="286.4" text-anchor="end" class="ax">8</text>
<line x1="55.5" y1="279.9" x2="58.3" y2="279.9" stroke="#d2d2d2" stroke-width="0.8"/>
<line x1="55.5" y1="277.2" x2="58.3" y2="277.2" stroke="#d2d2d2" stroke-width="0.8"/>
<line x1="55.5" y1="274.5" x2="58.3" y2="274.5" stroke="#d2d2d2" stroke-width="0.8"/>
<line x1="55.5" y1="271.8" x2="58.3" y2="271.8" stroke="#d2d2d2" stroke-width="0.8"/>
<line x1="52.7" y1="269.1" x2="59.8" y2="269.1" stroke="#d2d2d2" stroke-width="1"/>
<text x="47.5" y="272.9" text-anchor="end" class="ax">9</text>
<line x1="55.5" y1="266.4" x2="58.3" y2="266.4" stroke="#d2d2d2" stroke-width="0.8"/>
<line x1="55.5" y1="263.7" x2="58.3" y2="263.7" stroke="#d2d2d2" stroke-width="0.8"/>
<line x1="55.5" y1="261.0" x2="58.3" y2="261.0" stroke="#d2d2d2" stroke-width="0.8"/>
<line x1="55.5" y1="258.2" x2="58.3" y2="258.2" stroke="#d2d2d2" stroke-width="0.8"/>
<line x1="52.7" y1="255.5" x2="59.8" y2="255.5" stroke="#d2d2d2" stroke-width="1"/>
<text x="47.5" y="259.3" text-anchor="end" class="ax">10</text>
<line x1="55.5" y1="252.8" x2="58.3" y2="252.8" stroke="#d2d2d2" stroke-width="0.8"/>
<line x1="55.5" y1="250.1" x2="58.3" y2="250.1" stroke="#d2d2d2" stroke-width="0.8"/>
<line x1="55.5" y1="247.4" x2="58.3" y2="247.4" stroke="#d2d2d2" stroke-width="0.8"/>
<line x1="55.5" y1="244.7" x2="58.3" y2="244.7" stroke="#d2d2d2" stroke-width="0.8"/>
<line x1="52.7" y1="242.0" x2="59.8" y2="242.0" stroke="#d2d2d2" stroke-width="1"/>
<text x="47.5" y="245.8" text-anchor="end" class="ax">11</text>
<line x1="55.5" y1="239.3" x2="58.3" y2="239.3" stroke="#d2d2d2" stroke-width="0.8"/>
<line x1="55.5" y1="236.6" x2="58.3" y2="236.6" stroke="#d2d2d2" stroke-width="0.8"/>
<line x1="55.5" y1="233.9" x2="58.3" y2="233.9" stroke="#d2d2d2" stroke-width="0.8"/>
<line x1="55.5" y1="231.2" x2="58.3" y2="231.2" stroke="#d2d2d2" stroke-width="0.8"/>
<line x1="52.7" y1="228.5" x2="59.8" y2="228.5" stroke="#d2d2d2" stroke-width="1"/>
<text x="47.5" y="232.3" text-anchor="end" class="ax">12</text>
<line x1="55.5" y1="225.8" x2="58.3" y2="225.8" stroke="#d2d2d2" stroke-width="0.8"/>
<line x1="55.5" y1="223.1" x2="58.3" y2="223.1" stroke="#d2d2d2" stroke-width="0.8"/>
<line x1="55.5" y1="220.4" x2="58.3" y2="220.4" stroke="#d2d2d2" stroke-width="0.8"/>
<line x1="55.5" y1="217.7" x2="58.3" y2="217.7" stroke="#d2d2d2" stroke-width="0.8"/>
<line x1="52.7" y1="215.0" x2="59.8" y2="215.0" stroke="#d2d2d2" stroke-width="1"/>
<text x="47.5" y="218.8" text-anchor="end" class="ax">13</text>
<line x1="55.5" y1="212.2" x2="58.3" y2="212.2" stroke="#d2d2d2" stroke-width="0.8"/>
<line x1="55.5" y1="209.5" x2="58.3" y2="209.5" stroke="#d2d2d2" stroke-width="0.8"/>
<line x1="55.5" y1="206.8" x2="58.3" y2="206.8" stroke="#d2d2d2" stroke-width="0.8"/>
<line x1="55.5" y1="204.1" x2="58.3" y2="204.1" stroke="#d2d2d2" stroke-width="0.8"/>
<line x1="52.7" y1="201.4" x2="59.8" y2="201.4" stroke="#d2d2d2" stroke-width="1"/>
<text x="47.5" y="205.2" text-anchor="end" class="ax">14</text>
<line x1="55.5" y1="198.7" x2="58.3" y2="198.7" stroke="#d2d2d2" stroke-width="0.8"/>
<line x1="55.5" y1="196.0" x2="58.3" y2="196.0" stroke="#d2d2d2" stroke-width="0.8"/>
<line x1="55.5" y1="193.3" x2="58.3" y2="193.3" stroke="#d2d2d2" stroke-width="0.8"/>
<line x1="55.5" y1="190.6" x2="58.3" y2="190.6" stroke="#d2d2d2" stroke-width="0.8"/>
<line x1="52.7" y1="187.9" x2="59.8" y2="187.9" stroke="#d2d2d2" stroke-width="1"/>
<text x="47.5" y="191.7" text-anchor="end" class="ax">15</text>
<line x1="55.5" y1="185.2" x2="58.3" y2="185.2" stroke="#d2d2d2" stroke-width="0.8"/>
<line x1="55.5" y1="182.5" x2="58.3" y2="182.5" stroke="#d2d2d2" stroke-width="0.8"/>
<line x1="55.5" y1="179.8" x2="58.3" y2="179.8" stroke="#d2d2d2" stroke-width="0.8"/>
<line x1="55.5" y1="177.1" x2="58.3" y2="177.1" stroke="#d2d2d2" stroke-width="0.8"/>
<line x1="52.7" y1="174.4" x2="59.8" y2="174.4" stroke="#d2d2d2" stroke-width="1"/>
<text x="47.5" y="178.2" text-anchor="end" class="ax">16</text>
<line x1="55.5" y1="171.7" x2="58.3" y2="171.7" stroke="#d2d2d2" stroke-width="0.8"/>
<line x1="55.5" y1="169.0" x2="58.3" y2="169.0" stroke="#d2d2d2" stroke-width="0.8"/>
<line x1="55.5" y1="166.2" x2="58.3" y2="166.2" stroke="#d2d2d2" stroke-width="0.8"/>
<line x1="55.5" y1="163.5" x2="58.3" y2="163.5" stroke="#d2d2d2" stroke-width="0.8"/>
<line x1="52.7" y1="160.8" x2="59.8" y2="160.8" stroke="#d2d2d2" stroke-width="1"/>
<text x="47.5" y="164.6" text-anchor="end" class="ax">17</text>
<line x1="55.5" y1="158.1" x2="58.3" y2="158.1" stroke="#d2d2d2" stroke-width="0.8"/>
<line x1="55.5" y1="155.4" x2="58.3" y2="155.4" stroke="#d2d2d2" stroke-width="0.8"/>
<line x1="55.5" y1="152.7" x2="58.3" y2="152.7" stroke="#d2d2d2" stroke-width="0.8"/>
<line x1="55.5" y1="150.0" x2="58.3" y2="150.0" stroke="#d2d2d2" stroke-width="0.8"/>
<line x1="52.7" y1="147.3" x2="59.8" y2="147.3" stroke="#d2d2d2" stroke-width="1"/>
<text x="47.5" y="151.1" text-anchor="end" class="ax">18</text>
<line x1="55.5" y1="144.6" x2="58.3" y2="144.6" stroke="#d2d2d2" stroke-width="0.8"/>
<line x1="55.5" y1="141.9" x2="58.3" y2="141.9" stroke="#d2d2d2" stroke-width="0.8"/>
<line x1="55.5" y1="139.2" x2="58.3" y2="139.2" stroke="#d2d2d2" stroke-width="0.8"/>
<line x1="55.5" y1="136.5" x2="58.3" y2="136.5" stroke="#d2d2d2" stroke-width="0.8"/>
<line x1="52.7" y1="133.8" x2="59.8" y2="133.8" stroke="#d2d2d2" stroke-width="1"/>
<text x="47.5" y="137.6" text-anchor="end" class="ax">19</text>
<line x1="55.5" y1="131.1" x2="58.3" y2="131.1" stroke="#d2d2d2" stroke-width="0.8"/>
<line x1="55.5" y1="128.4" x2="58.3" y2="128.4" stroke="#d2d2d2" stroke-width="0.8"/>
<line x1="55.5" y1="125.7" x2="58.3" y2="125.7" stroke="#d2d2d2" stroke-width="0.8"/>
<line x1="55.5" y1="123.0" x2="58.3" y2="123.0" stroke="#d2d2d2" stroke-width="0.8"/>
<line x1="52.7" y1="120.2" x2="59.8" y2="120.2" stroke="#d2d2d2" stroke-width="1"/>
<text x="47.5" y="124.0" text-anchor="end" class="ax">20</text>
<line x1="55.5" y1="117.5" x2="58.3" y2="117.5" stroke="#d2d2d2" stroke-width="0.8"/>
<line x1="55.5" y1="114.8" x2="58.3" y2="114.8" stroke="#d2d2d2" stroke-width="0.8"/>
<line x1="55.5" y1="112.1" x2="58.3" y2="112.1" stroke="#d2d2d2" stroke-width="0.8"/>
<line x1="55.5" y1="109.4" x2="58.3" y2="109.4" stroke="#d2d2d2" stroke-width="0.8"/>
<line x1="52.7" y1="106.7" x2="59.8" y2="106.7" stroke="#d2d2d2" stroke-width="1"/>
<text x="47.5" y="110.5" text-anchor="end" class="ax">21</text>
<line x1="55.5" y1="104.0" x2="58.3" y2="104.0" stroke="#d2d2d2" stroke-width="0.8"/>
<line x1="55.5" y1="101.3" x2="58.3" y2="101.3" stroke="#d2d2d2" stroke-width="0.8"/>
<line x1="55.5" y1="98.6" x2="58.3" y2="98.6" stroke="#d2d2d2" stroke-width="0.8"/>
<line x1="55.5" y1="95.9" x2="58.3" y2="95.9" stroke="#d2d2d2" stroke-width="0.8"/>
<line x1="52.7" y1="93.2" x2="59.8" y2="93.2" stroke="#d2d2d2" stroke-width="1"/>
<text x="47.5" y="97.0" text-anchor="end" class="ax">22</text>
<line x1="55.5" y1="90.5" x2="58.3" y2="90.5" stroke="#d2d2d2" stroke-width="0.8"/>
<line x1="55.5" y1="87.8" x2="58.3" y2="87.8" stroke="#d2d2d2" stroke-width="0.8"/>
<line x1="55.5" y1="85.1" x2="58.3" y2="85.1" stroke="#d2d2d2" stroke-width="0.8"/>
<line x1="55.5" y1="82.4" x2="58.3" y2="82.4" stroke="#d2d2d2" stroke-width="0.8"/>
<line x1="52.7" y1="79.7" x2="59.8" y2="79.7" stroke="#d2d2d2" stroke-width="1"/>
<text x="47.5" y="83.5" text-anchor="end" class="ax">23</text>
<line x1="55.5" y1="77.0" x2="58.3" y2="77.0" stroke="#d2d2d2" stroke-width="0.8"/>
<line x1="55.5" y1="74.2" x2="58.3" y2="74.2" stroke="#d2d2d2" stroke-width="0.8"/>
<line x1="55.5" y1="71.5" x2="58.3" y2="71.5" stroke="#d2d2d2" stroke-width="0.8"/>
<line x1="55.5" y1="68.8" x2="58.3" y2="68.8" stroke="#d2d2d2" stroke-width="0.8"/>
<line x1="52.7" y1="66.1" x2="59.8" y2="66.1" stroke="#d2d2d2" stroke-width="1"/>
<text x="47.5" y="69.9" text-anchor="end" class="ax">24</text>
<line x1="55.5" y1="63.4" x2="58.3" y2="63.4" stroke="#d2d2d2" stroke-width="0.8"/>
<line x1="55.5" y1="60.7" x2="58.3" y2="60.7" stroke="#d2d2d2" stroke-width="0.8"/>
<line x1="55.5" y1="58.0" x2="58.3" y2="58.0" stroke="#d2d2d2" stroke-width="0.8"/>
<line x1="55.5" y1="55.3" x2="58.3" y2="55.3" stroke="#d2d2d2" stroke-width="0.8"/>
<line x1="52.7" y1="52.6" x2="59.8" y2="52.6" stroke="#d2d2d2" stroke-width="1"/>
<text x="47.5" y="56.4" text-anchor="end" class="ax">25</text>
<line x1="738.2" y1="271.1" x2="738.2" y2="449.8" stroke="#d2d2d2" stroke-width="1"/>
<line x1="735.2" y1="449.8" x2="741.7" y2="449.8" stroke="#d2d2d2" stroke-width="1"/>
<text x="747.8" y="453.6" class="ax">0.0</text>
<line x1="736.8" y1="445.8" x2="739.6" y2="445.8" stroke="#d2d2d2" stroke-width="0.8"/>
<line x1="736.8" y1="441.9" x2="739.6" y2="441.9" stroke="#d2d2d2" stroke-width="0.8"/>
<line x1="736.8" y1="437.9" x2="739.6" y2="437.9" stroke="#d2d2d2" stroke-width="0.8"/>
<line x1="736.8" y1="433.9" x2="739.6" y2="433.9" stroke="#d2d2d2" stroke-width="0.8"/>
<line x1="735.2" y1="429.9" x2="741.7" y2="429.9" stroke="#d2d2d2" stroke-width="1"/>
<text x="747.8" y="433.7" class="ax">1.0</text>
<line x1="736.8" y1="426.0" x2="739.6" y2="426.0" stroke="#d2d2d2" stroke-width="0.8"/>
<line x1="736.8" y1="422.0" x2="739.6" y2="422.0" stroke="#d2d2d2" stroke-width="0.8"/>
<line x1="736.8" y1="418.0" x2="739.6" y2="418.0" stroke="#d2d2d2" stroke-width="0.8"/>
<line x1="736.8" y1="414.1" x2="739.6" y2="414.1" stroke="#d2d2d2" stroke-width="0.8"/>
<line x1="735.2" y1="410.1" x2="741.7" y2="410.1" stroke="#d2d2d2" stroke-width="1"/>
<text x="747.8" y="413.9" class="ax">2.0</text>
<line x1="736.8" y1="406.1" x2="739.6" y2="406.1" stroke="#d2d2d2" stroke-width="0.8"/>
<line x1="736.8" y1="402.1" x2="739.6" y2="402.1" stroke="#d2d2d2" stroke-width="0.8"/>
<line x1="736.8" y1="398.2" x2="739.6" y2="398.2" stroke="#d2d2d2" stroke-width="0.8"/>
<line x1="736.8" y1="394.2" x2="739.6" y2="394.2" stroke="#d2d2d2" stroke-width="0.8"/>
<line x1="735.2" y1="390.2" x2="741.7" y2="390.2" stroke="#d2d2d2" stroke-width="1"/>
<text x="747.8" y="394.0" class="ax">3.0</text>
<line x1="736.8" y1="386.3" x2="739.6" y2="386.3" stroke="#d2d2d2" stroke-width="0.8"/>
<line x1="736.8" y1="382.3" x2="739.6" y2="382.3" stroke="#d2d2d2" stroke-width="0.8"/>
<line x1="736.8" y1="378.3" x2="739.6" y2="378.3" stroke="#d2d2d2" stroke-width="0.8"/>
<line x1="736.8" y1="374.3" x2="739.6" y2="374.3" stroke="#d2d2d2" stroke-width="0.8"/>
<line x1="735.2" y1="370.4" x2="741.7" y2="370.4" stroke="#d2d2d2" stroke-width="1"/>
<text x="747.8" y="374.2" class="ax">4.0</text>
<line x1="736.8" y1="366.4" x2="739.6" y2="366.4" stroke="#d2d2d2" stroke-width="0.8"/>
<line x1="736.8" y1="362.4" x2="739.6" y2="362.4" stroke="#d2d2d2" stroke-width="0.8"/>
<line x1="736.8" y1="358.5" x2="739.6" y2="358.5" stroke="#d2d2d2" stroke-width="0.8"/>
<line x1="736.8" y1="354.5" x2="739.6" y2="354.5" stroke="#d2d2d2" stroke-width="0.8"/>
<line x1="735.2" y1="350.5" x2="741.7" y2="350.5" stroke="#d2d2d2" stroke-width="1"/>
<text x="747.8" y="354.3" class="ax">5.0</text>
<line x1="736.8" y1="346.6" x2="739.6" y2="346.6" stroke="#d2d2d2" stroke-width="0.8"/>
<line x1="736.8" y1="342.6" x2="739.6" y2="342.6" stroke="#d2d2d2" stroke-width="0.8"/>
<line x1="736.8" y1="338.6" x2="739.6" y2="338.6" stroke="#d2d2d2" stroke-width="0.8"/>
<line x1="736.8" y1="334.6" x2="739.6" y2="334.6" stroke="#d2d2d2" stroke-width="0.8"/>
<line x1="735.2" y1="330.7" x2="741.7" y2="330.7" stroke="#d2d2d2" stroke-width="1"/>
<text x="747.8" y="334.5" class="ax">6.0</text>
<line x1="736.8" y1="326.7" x2="739.6" y2="326.7" stroke="#d2d2d2" stroke-width="0.8"/>
<line x1="736.8" y1="322.7" x2="739.6" y2="322.7" stroke="#d2d2d2" stroke-width="0.8"/>
<line x1="736.8" y1="318.8" x2="739.6" y2="318.8" stroke="#d2d2d2" stroke-width="0.8"/>
<line x1="736.8" y1="314.8" x2="739.6" y2="314.8" stroke="#d2d2d2" stroke-width="0.8"/>
<line x1="735.2" y1="310.8" x2="741.7" y2="310.8" stroke="#d2d2d2" stroke-width="1"/>
<text x="747.8" y="314.6" class="ax">7.0</text>
<line x1="736.8" y1="306.8" x2="739.6" y2="306.8" stroke="#d2d2d2" stroke-width="0.8"/>
<line x1="736.8" y1="302.9" x2="739.6" y2="302.9" stroke="#d2d2d2" stroke-width="0.8"/>
<line x1="736.8" y1="298.9" x2="739.6" y2="298.9" stroke="#d2d2d2" stroke-width="0.8"/>
<line x1="736.8" y1="294.9" x2="739.6" y2="294.9" stroke="#d2d2d2" stroke-width="0.8"/>
<line x1="735.2" y1="291.0" x2="741.7" y2="291.0" stroke="#d2d2d2" stroke-width="1"/>
<text x="747.8" y="294.8" class="ax">8.0</text>
<line x1="736.8" y1="287.0" x2="739.6" y2="287.0" stroke="#d2d2d2" stroke-width="0.8"/>
<line x1="736.8" y1="283.0" x2="739.6" y2="283.0" stroke="#d2d2d2" stroke-width="0.8"/>
<line x1="736.8" y1="279.0" x2="739.6" y2="279.0" stroke="#d2d2d2" stroke-width="0.8"/>
<line x1="736.8" y1="275.1" x2="739.6" y2="275.1" stroke="#d2d2d2" stroke-width="0.8"/>
<line x1="735.2" y1="271.1" x2="741.7" y2="271.1" stroke="#d2d2d2" stroke-width="1"/>
<text x="747.8" y="274.9" class="ax">9.0</text>
<path d="M56.7,184.9 L57.7,174.5 L58.6,169.2 L59.9,173.3 L61.2,171.7 L62.4,171.4 L64.0,169.5 L65.6,172.6 L67.2,177.0 L68.7,172.0 L70.3,171.4 L71.9,169.5 L73.5,180.8 L75.0,181.8 L76.3,188.1 L79.1,185.9 L81.7,183.0 L83.9,181.8 L85.1,184.6 L88.0,182.1 L89.8,183.0 L90.0,182.6 L91.5,189.4 L93.4,184.8 L94.2,188.3 L95.7,191.7 L96.8,195.5 L98.3,201.5 L100.2,196.2 L102.5,190.5 L104.8,191.3 L106.3,193.2 L107.4,188.3 L108.9,191.7 L110.1,192.8 L112.0,190.9 L114.2,190.9 L115.8,190.2 L118.0,191.7 L120.3,189.0 L122.2,197.7 L123.7,197.3 L125.6,203.0 L127.5,202.3 L129.4,207.6 L131.3,202.7 L132.8,203.8 L134.7,200.8 L136.6,200.4 L139.2,193.9 L141.9,192.8 L143.8,190.5 L146.4,188.3 L148.0,189.0 L149.5,187.9 L151.4,187.5 L152.5,185.6 L154.1,185.3 L155.2,189.4 L156.0,193.2 L157.1,195.1 L158.2,190.2 L159.4,188.3 L160.9,184.1 L162.8,181.5 L164.3,181.1 L165.8,180.0 L166.9,182.2 L168.5,186.8 L169.2,184.1 L170.3,181.1 L171.5,184.9 L172.6,194.0 L173.8,198.1 L175.3,198.9 L176.4,197.0 L177.9,197.8 L179.1,192.5 L181.0,186.0 L182.1,190.2 L183.2,194.7 L184.4,197.0 L185.0,201.4 L186.1,201.0 L187.3,195.7 L188.4,197.6 L189.5,196.1 L190.7,203.6 L191.8,208.2 L192.6,214.6 L193.7,213.5 L194.5,206.3 L195.2,212.0 L196.4,210.1 L197.5,215.0 L198.6,218.0 L199.8,212.3 L201.3,209.3 L202.4,206.3 L203.9,201.0 L205.5,199.1 L206.6,202.1 L207.7,203.6 L208.9,205.5 L210.0,212.0 L211.5,220.3 L212.7,223.3 L214.5,221.1 L216.1,216.5 L217.2,214.6 L218.3,218.8 L219.2,220.5 L221.3,223.2 L222.2,235.8 L222.9,254.7 L223.4,267.4 L224.3,260.0 L225.0,262.1 L226.1,252.6 L226.8,262.1 L227.6,265.3 L228.7,253.7 L229.7,249.5 L231.3,239.5 L232.4,237.9 L233.1,231.1 L234.5,237.9 L236.1,242.1 L237.3,235.8 L238.2,234.2 L239.0,241.1 L239.8,250.5 L240.8,241.1 L241.8,229.5 L242.9,220.0 L242.3,214.8 L243.8,208.0 L245.3,205.0 L246.4,202.0 L247.6,193.3 L248.5,201.6 L249.5,198.2 L250.6,189.8 L251.5,189.8 L252.1,202.0 L253.3,203.5 L254.4,210.7 L255.5,202.7 L256.7,195.2 L257.8,189.1 L259.3,190.6 L260.5,192.1 L262.0,187.6 L262.7,188.3 L263.9,194.8 L265.0,188.3 L265.8,187.6 L266.5,192.1 L267.3,197.4 L268.4,188.3 L269.2,187.6 L270.3,195.2 L271.8,193.6 L273.0,197.0 L274.1,193.6 L275.2,191.4 L276.4,197.4 L277.5,203.5 L278.6,206.9 L280.2,206.1 L281.3,205.0 L282.0,200.5 L283.2,199.7 L284.7,198.9 L285.8,195.9 L287.0,195.5 L287.7,198.9 L288.5,202.0 L289.2,208.0 L290.0,211.1 L290.8,216.0 L288.0,200.0 L289.2,207.6 L289.9,211.4 L290.5,222.3 L291.4,224.2 L292.6,226.1 L293.7,221.6 L294.8,228.0 L296.0,234.8 L296.7,228.8 L297.9,228.0 L299.4,223.1 L300.5,228.8 L302.0,232.6 L303.6,227.3 L305.5,222.0 L307.3,219.3 L309.2,217.4 L310.4,212.9 L311.5,217.4 L312.3,220.1 L313.4,215.2 L314.5,213.6 L316.1,212.5 L317.6,209.8 L318.3,208.0 L319.5,213.6 L320.6,211.4 L321.7,207.6 L322.9,209.1 L324.4,212.1 L325.9,219.3 L327.0,213.3 L328.9,216.3 L330.5,212.1 L332.3,215.2 L333.5,218.9 L335.0,224.2 L336.5,228.8 L338.0,220.5 L339.2,220.1 L340.7,222.7 L341.8,236.0 L342.1,238.3 L342.9,248.4 L344.1,244.4 L345.6,243.9 L346.6,239.8 L347.6,248.4 L348.6,243.4 L350.2,233.3 L351.2,228.2 L352.7,230.8 L353.7,238.3 L354.4,243.4 L355.2,233.3 L356.7,236.3 L357.7,232.3 L359.7,230.3 L361.3,224.2 L363.3,220.2 L365.8,217.6 L368.3,215.1 L369.8,216.1 L371.4,220.2 L372.9,222.7 L374.4,229.2 L375.9,234.3 L377.4,229.2 L379.4,226.2 L382.0,223.7 L384.5,219.1 L386.5,217.1 L388.0,212.6 L390.1,215.1 L392.6,219.1 L395.0,225.2 L391.5,217.4 L393.5,220.5 L395.6,222.5 L397.6,219.4 L399.1,218.4 L400.1,219.9 L401.6,214.4 L403.6,211.4 L405.7,209.3 L407.2,209.8 L408.7,207.3 L410.2,206.3 L411.7,205.8 L412.7,204.3 L413.7,207.8 L415.3,201.3 L416.5,196.7 L417.8,198.7 L419.3,200.3 L420.8,205.3 L422.3,200.3 L423.8,196.2 L425.4,194.7 L426.9,199.2 L428.9,203.3 L430.4,198.7 L432.4,197.7 L434.4,192.7 L436.5,189.6 L438.5,188.1 L440.5,189.6 L441.5,186.1 L443.0,184.6 L444.5,186.1 L446.1,190.7 L447.6,185.1 L448.6,183.6 L450.0,181.1 L446.5,190.4 L448.0,185.4 L450.1,181.3 L452.1,183.8 L454.1,187.9 L455.6,183.8 L457.1,182.3 L458.6,185.4 L460.7,179.3 L462.2,178.8 L463.7,177.3 L465.7,179.8 L467.7,184.3 L469.2,181.3 L471.3,178.3 L473.3,180.3 L474.8,185.4 L475.8,191.4 L476.8,186.4 L477.8,179.3 L479.8,174.2 L481.4,171.7 L482.6,178.3 L483.9,168.2 L485.4,170.2 L486.9,171.7 L487.9,173.7 L489.4,164.1 L491.0,158.1 L493.0,160.1 L495.0,164.6 L497.0,160.6 L499.0,159.1 L501.1,160.6 L503.1,162.6 L505.0,163.6 L505.6,164.7 L507.1,166.2 L508.1,164.2 L509.1,166.7 L510.6,167.7 L511.6,178.3 L512.6,180.4 L513.6,184.9 L514.6,182.4 L516.2,184.4 L517.7,173.3 L519.2,167.7 L520.2,165.7 L521.2,172.3 L522.7,166.2 L524.2,169.2 L525.3,174.8 L526.3,170.8 L527.3,175.3 L528.8,184.9 L529.8,182.4 L530.8,184.9 L531.8,189.4 L533.3,179.3 L535.4,167.7 L536.9,166.2 L538.4,163.7 L539.9,162.7 L541.4,165.2 L542.9,167.7 L544.4,163.2 L546.0,165.7 L547.0,171.8 L548.5,163.2 L550.5,158.6 L552.0,157.1 L553.5,159.1 L555.1,160.2 L556.6,164.7 L558.1,162.2 L560.0,166.2 L560.6,167.4 L562.1,171.5 L563.1,164.4 L564.6,161.9 L565.6,160.4 L566.6,155.8 L568.1,158.8 L569.6,156.3 L571.2,158.3 L572.7,154.8 L574.2,150.8 L576.2,147.2 L578.2,151.8 L579.7,151.3 L581.3,154.3 L582.8,150.3 L584.8,153.3 L586.3,148.7 L587.8,150.3 L589.8,152.3 L591.9,148.7 L593.4,149.2 L594.9,153.3 L595.9,154.8 L597.4,151.3 L599.4,149.2 L601.5,145.7 L603.5,144.2 L605.0,144.7 L606.0,146.7 L607.5,141.2 L610.1,139.6 L611.1,135.1 L612.4,130.6 L613.4,137.1 L614.1,139.6 L615.1,150.0 L616.1,156.1 L617.6,159.6 L619.1,153.5 L620.1,171.2 L621.6,168.7 L623.1,167.7 L624.6,167.2 L625.7,163.1 L626.7,167.7 L628.2,163.6 L629.7,166.2 L631.2,169.7 L632.7,165.2 L634.7,164.1 L636.3,163.1 L637.8,164.6 L639.3,162.1 L641.3,161.6 L643.3,165.2 L644.3,175.3 L645.4,182.3 L646.9,174.7 L648.4,181.3 L649.4,176.8 L650.4,185.9 L651.9,194.4 L652.1,201.3 L653.1,195.3 L654.6,185.2 L656.2,179.6 L657.7,176.1 L659.2,172.0 L660.0,169.4 L662.0,168.4 L664.5,162.4 L666.6,159.3 L668.1,163.4 L670.1,171.5 L672.6,163.4 L674.6,158.3 L676.2,157.3 L677.7,161.4 L679.7,168.4 L680.7,164.4 L682.2,158.8 L684.7,163.4 L687.3,157.3 L689.3,151.3 L691.8,148.2 L694.3,142.7 L696.9,138.1 L697.9,140.2 L698.9,143.7 L699.9,134.1 L700.6,133.1 L701.4,140.2 L701.9,164.4 L702.4,165.4 L703.4,173.0 L704.2,214.9 L705.1,192.8 L706.4,185.3 L706.4,185.3 L707.0,133.1 L708.0,134.1 L709.5,131.1 L710.5,125.0 L711.5,110.0 L712.4,84.0 L713.2,92.0 L714.6,100.0 L715.5,92.0 L716.8,89.0 L718.5,89.5 L719.8,84.0 L721.2,77.0 L722.3,85.0 L723.0,79.5 L724.2,92.7 L726.4,95.0" fill="none" stroke="#6b8aa9" stroke-width="1.05" stroke-linejoin="round" filter="url(#sh)"/>
<path d="M56.7,399.1 L57.7,405.2 L58.4,412.7 L59.6,410.5 L60.7,411.6 L61.8,410.8 L63.0,412.3 L64.1,413.5 L65.6,409.7 L67.2,407.4 L68.7,410.1 L70.6,413.5 L72.5,416.5 L74.0,413.1 L75.5,410.8 L76.6,402.5 L77.8,402.1 L78.9,404.4 L80.4,401.4 L81.9,401.7 L83.4,400.2 L84.6,398.3 L85.3,402.1 L86.5,403.3 L88.0,405.2 L89.1,408.2 L90.3,404.4 L91.4,400.6 L92.9,399.1 L94.0,401.7 L95.6,401.0 L96.7,400.2 L97.8,395.7 L98.6,398.3 L99.7,404.4 L101.2,404.8 L103.1,405.9 L104.7,404.0 L106.2,402.5 L107.7,404.0 L108.8,401.7 L110.3,405.2 L111.8,406.3 L109.1,404.1 L111.0,406.4 L113.3,409.0 L115.6,410.2 L117.1,413.2 L118.6,415.8 L120.9,418.5 L122.4,411.3 L123.9,410.9 L125.0,407.9 L126.2,409.4 L127.3,410.2 L128.8,406.7 L130.0,404.8 L130.7,406.7 L132.6,404.8 L134.1,403.3 L135.7,403.7 L136.8,400.7 L137.9,404.1 L139.4,409.4 L141.0,407.9 L142.8,407.5 L144.4,406.4 L145.1,404.8 L146.3,408.6 L148.2,409.8 L149.7,412.4 L151.2,414.3 L152.3,415.5 L153.8,411.7 L155.3,404.8 L156.5,404.1 L157.2,404.5 L158.4,408.6 L160.3,412.8 L162.2,414.7 L164.1,417.0 L165.6,420.0 L166.7,423.4 L168.0,423.0 L162.0,414.3 L164.0,417.4 L165.6,420.4 L166.9,423.4 L168.6,419.4 L170.1,423.4 L171.6,414.3 L173.1,404.2 L175.2,403.2 L177.4,398.7 L178.7,406.3 L181.0,411.8 L182.2,403.2 L184.2,397.2 L186.3,388.6 L187.8,393.1 L189.5,395.7 L190.3,392.1 L191.3,382.0 L193.3,369.2 L194.8,373.9 L196.4,377.1 L198.9,364.2 L202.1,373.3 L204.9,383.4 L206.5,383.0 L207.8,384.4 L208.8,388.0 L210.7,376.7 L212.5,368.9 L214.7,372.0 L217.2,374.6 L219.1,365.7 L221.4,367.9 L222.1,351.4 L222.7,335.0 L223.1,308.3 L224.6,318.6 L225.6,334.8 L226.8,320.1 L227.9,304.6 L229.0,317.1 L230.0,309.0 L230.9,320.1 L231.9,314.9 L232.9,328.9 L234.1,322.3 L235.6,324.5 L237.1,337.0 L238.5,329.6 L240.0,316.4 L241.2,333.3 L242.9,356.8 L242.5,355.0 L244.2,360.1 L245.5,365.1 L246.3,370.2 L247.2,379.4 L248.0,371.0 L248.8,378.6 L250.1,387.0 L251.0,392.9 L252.2,382.8 L253.5,374.4 L254.5,366.4 L255.2,374.4 L256.0,382.0 L256.9,385.3 L257.7,392.9 L258.5,387.9 L260.2,384.5 L261.5,383.7 L262.8,387.0 L264.0,377.8 L265.3,385.3 L266.5,379.4 L267.8,386.2 L269.1,387.0 L270.3,377.8 L271.6,382.0 L272.9,384.1 L274.1,388.3 L275.4,392.1 L276.7,386.2 L278.3,375.2 L279.6,377.8 L280.9,379.4 L282.1,382.8 L283.8,384.1 L285.5,390.4 L286.8,387.9 L287.6,387.0 L288.9,371.9 L289.7,369.0 L290.5,355.7 L292.1,352.8 L292.6,351.1 L293.8,355.7 L295.5,337.7 L296.3,344.7 L297.0,341.2 L297.8,347.0 L299.0,346.4 L300.2,338.9 L301.9,332.5 L303.1,336.6 L304.2,341.8 L306.5,341.8 L308.8,345.8 L310.6,349.9 L312.3,351.6 L313.5,358.6 L314.6,365.0 L317.0,365.5 L318.7,366.7 L319.9,365.0 L321.0,373.6 L322.2,376.0 L323.9,369.0 L325.6,359.2 L326.8,366.7 L328.0,369.6 L329.7,364.4 L331.4,362.1 L333.2,357.4 L334.9,350.5 L336.6,342.4 L337.8,355.7 L339.0,351.6 L340.1,349.9 L341.6,321.3 L342.6,301.3 L343.7,310.8 L344.7,304.5 L345.8,312.9 L346.8,313.9 L347.6,299.2 L348.4,305.5 L349.5,316.1 L350.5,323.4 L351.1,331.3 L352.1,322.4 L353.2,322.9 L354.2,306.6 L355.3,320.3 L356.3,312.9 L357.4,321.3 L358.4,319.2 L359.5,322.4 L361.1,327.6 L362.6,330.8 L364.7,333.4 L366.3,336.1 L367.4,341.3 L368.9,338.2 L370.5,332.9 L372.1,330.8 L373.7,323.4 L374.7,316.1 L376.3,306.6 L377.4,314.5 L378.9,319.2 L380.5,317.1 L382.1,320.3 L383.7,324.5 L385.1,330.8 L386.3,325.5 L387.9,335.5 L389.5,330.8 L391.1,328.7 L392.6,328.7 L394.2,323.9 L395.3,318.7 L396.3,323.9 L397.9,326.6 L400.0,327.6 L401.2,335.1 L403.2,338.5 L405.3,342.0 L407.3,339.9 L408.7,344.7 L410.8,341.3 L412.1,338.5 L413.5,337.2 L414.9,343.3 L416.9,350.2 L419.0,352.2 L420.3,354.3 L421.7,359.8 L423.1,363.2 L425.1,363.9 L427.2,365.3 L428.6,363.2 L430.6,368.0 L432.0,363.2 L434.0,366.6 L436.1,370.7 L438.2,372.8 L440.2,374.2 L442.3,379.6 L444.3,374.2 L446.4,369.4 L448.4,374.2 L450.5,377.6 L452.5,372.1 L455.0,370.1 L451.3,373.7 L452.5,374.1 L453.8,370.7 L455.1,373.7 L456.3,372.0 L458.0,369.9 L459.3,372.0 L460.5,374.5 L462.2,374.1 L463.9,376.6 L465.6,372.8 L467.3,370.3 L469.0,367.8 L470.6,371.1 L472.3,374.5 L474.0,369.9 L475.7,358.9 L477.0,365.2 L478.2,369.4 L479.9,371.5 L481.2,372.8 L482.4,365.2 L483.3,367.8 L484.1,374.1 L485.4,366.9 L486.7,364.4 L487.9,358.9 L488.8,364.4 L490.0,370.3 L491.3,376.6 L492.6,374.5 L493.8,372.0 L495.5,368.6 L496.8,370.3 L498.5,373.7 L500.1,376.6 L501.8,377.4 L503.1,379.6 L504.4,378.7 L506.0,379.1 L507.3,378.3 L508.6,374.5 L509.8,372.8 L506.3,377.9 L507.5,375.3 L509.2,373.7 L510.5,372.8 L511.7,365.6 L513.0,363.1 L514.3,364.8 L516.0,362.3 L517.2,366.1 L518.9,370.3 L520.6,376.6 L521.4,373.7 L522.7,374.9 L524.4,369.0 L525.6,372.8 L526.9,370.3 L528.2,361.4 L529.4,359.7 L530.7,355.1 L531.8,352.2 L533.2,360.2 L534.9,367.8 L536.6,368.6 L538.3,365.6 L539.6,369.4 L540.4,369.0 L542.1,364.8 L543.3,368.6 L544.6,366.1 L546.7,359.3 L548.4,361.4 L550.1,364.8 L551.8,366.1 L553.5,366.5 L555.1,365.6 L557.2,364.8 L558.9,366.1 L560.6,365.6 L562.3,363.5 L563.1,373.7 L565.0,380.4 L565.1,381.1 L566.3,384.4 L567.6,386.5 L568.8,384.0 L570.5,384.0 L572.6,385.3 L574.7,386.5 L576.9,389.5 L578.5,386.1 L581.1,382.3 L582.8,384.9 L584.4,382.8 L586.5,382.8 L588.7,381.5 L590.3,384.4 L591.6,385.7 L593.3,383.6 L595.4,380.2 L597.1,380.6 L598.3,379.4 L599.6,382.3 L601.3,386.5 L603.4,388.7 L605.5,387.4 L607.2,389.5 L608.9,390.8 L610.6,392.4 L612.2,396.7 L613.9,397.9 L615.6,393.7 L617.3,392.0 L619.0,393.7 L615.0,392.9 L616.9,392.0 L618.8,393.9 L620.2,384.4 L621.6,383.9 L623.1,388.2 L625.0,389.6 L626.4,391.0 L627.8,388.2 L629.2,390.5 L631.6,385.8 L633.5,388.2 L635.4,390.5 L637.7,388.6 L639.6,392.4 L641.5,393.9 L643.0,395.3 L643.9,391.0 L645.1,383.0 L646.3,387.2 L647.2,388.2 L648.6,381.1 L649.6,382.5 L650.8,372.1 L652.0,364.0 L653.4,368.3 L654.8,377.7 L656.7,377.7 L658.1,379.6 L659.5,383.4 L661.0,380.1 L662.4,378.2 L664.3,382.5 L666.2,384.4 L667.6,383.9 L669.0,377.7 L670.5,367.8 L671.4,372.1 L672.8,373.5 L674.7,376.8 L677.1,374.7 L679.6,360.2 L682.2,372.1 L684.7,363.3 L687.2,370.9 L689.2,375.3 L691.7,375.3 L694.2,379.3 L697.1,380.4 L698.8,374.3 L700.3,377.3 L701.8,357.1 L703.3,335.3 L704.1,314.6 L704.8,326.2 L706.2,326.7 L707.4,353.0 L707.9,358.1 L709.9,359.1 L711.9,370.3 L712.9,380.4 L715.3,369.2 L717.0,374.3 L719.5,372.3 L721.5,378.3 L723.5,374.3 L725.6,372.8" fill="none" stroke="#56b8e7" stroke-width="1.05" stroke-linejoin="round" filter="url(#sh)"/>
<text x="56.8" y="465.5" text-anchor="middle" class="yr">2004</text>
<text x="98.7" y="465.5" text-anchor="middle" class="yr">2005</text>
<text x="140.6" y="465.5" text-anchor="middle" class="yr">2006</text>
<text x="182.4" y="465.5" text-anchor="middle" class="yr">2007</text>
<text x="224.3" y="465.5" text-anchor="middle" class="yr">2008</text>
<text x="266.2" y="465.5" text-anchor="middle" class="yr">2009</text>
<text x="308.1" y="465.5" text-anchor="middle" class="yr">2010</text>
<text x="350.0" y="465.5" text-anchor="middle" class="yr">2011</text>
<text x="391.8" y="465.5" text-anchor="middle" class="yr">2012</text>
<text x="433.7" y="465.5" text-anchor="middle" class="yr">2013</text>
<text x="475.6" y="465.5" text-anchor="middle" class="yr">2014</text>
<text x="517.5" y="465.5" text-anchor="middle" class="yr">2015</text>
<text x="559.4" y="465.5" text-anchor="middle" class="yr">2016</text>
<text x="601.2" y="465.5" text-anchor="middle" class="yr">2017</text>
<text x="643.1" y="465.5" text-anchor="middle" class="yr">2018</text>
<text x="685.0" y="465.5" text-anchor="middle" class="yr">2019</text>
<text x="726.9" y="465.5" text-anchor="middle" class="yr">2020</text>
<text x="164.4" y="173.6" text-anchor="middle" class="dl">15.6</text>
<text x="250.4" y="176.2" text-anchor="middle" class="dl">15.1</text>
<text x="222" y="283" text-anchor="middle" class="dl">9.1</text>
<text x="341" y="270" text-anchor="middle" class="dl">10.4</text>
<text x="495.8" y="155" text-anchor="middle" class="dl">17.3</text>
<text x="530.7" y="204.5" text-anchor="middle" class="dl">14.9</text>
<text x="614.7" y="121" text-anchor="middle" class="dl">19.3</text>
<text x="651.6" y="221" text-anchor="middle" class="dl">14.0</text>
<text x="700.4" y="233.5" text-anchor="middle" class="dl">13.0</text>
<text x="694" y="126.3" text-anchor="middle" class="dl">19.1</text>
<text x="723.8" y="65.3" text-anchor="middle" class="dl">23.3</text>
<text x="228.5" y="297.7" text-anchor="middle" class="ll">7.36</text>
<text x="171" y="438" text-anchor="middle" class="ll">1.34</text>
<text x="257.3" y="410" text-anchor="middle" class="ll">2.83</text>
<text x="348.5" y="291.7" text-anchor="middle" class="ll">7.63</text>
<text x="442" y="392.2" text-anchor="middle" class="ll">3.53</text>
<text x="527.5" y="346.2" text-anchor="middle" class="ll">4.97</text>
<text x="615" y="413" text-anchor="middle" class="ll">2.60</text>
<text x="707" y="307.7" text-anchor="middle" class="ll">6.85</text>
<text x="720" y="395.2" text-anchor="middle" class="ll">3.59</text>
<line x1="466.3" y1="225" x2="482.5" y2="225" stroke="#7592ae" stroke-width="1.7"/>
<text x="488.3" y="230" class="lg">P/E next 12 months</text>
<line x1="352.5" y1="427" x2="369.4" y2="427" stroke="#7cc8ec" stroke-width="1.7"/>
<text x="373" y="431.5" class="lg" textLength="129.5" lengthAdjust="spacingAndGlyphs">ERP (Earnings yld-RFR)</text>
<text x="60.3" y="64" class="at">P/E ratio</text>
<text x="60.3" y="75.3" class="at">12m fwd</text>
<text x="715" y="422" text-anchor="middle" class="at">equity</text>
<text x="715" y="434" text-anchor="middle" class="at">risk</text>
<text x="715" y="446" text-anchor="middle" class="at">premium</text>
</svg>
</body></html>
